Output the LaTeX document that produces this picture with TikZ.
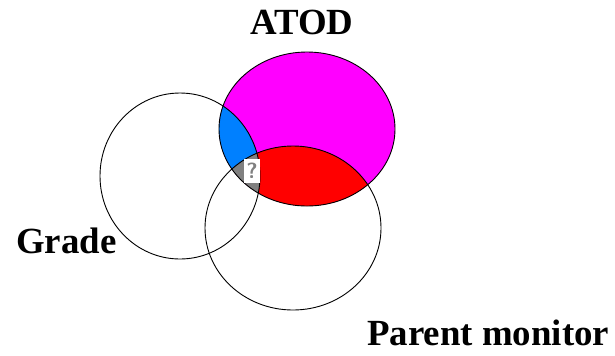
\documentclass[tikz,border=0pt]{standalone}
\usepackage{fontspec}
\setmainfont{Liberation Serif}
\definecolor{atodmag}{HTML}{FF00FF}
\definecolor{gradeblue}{HTML}{0080FF}
\definecolor{parentred}{HTML}{FF0000}
\definecolor{tripgray}{HTML}{808080}
\begin{document}
\begin{tikzpicture}[x=1bp,y=-1bp,
  outline/.style={draw=black,line width=0.9bp},
  lbl/.style={font=\fontsize{37}{40}\selectfont\bfseries,inner sep=0pt,anchor=base west}]
\useasboundingbox (0,0) rectangle (615,355);
\coordinate (atodc) at (307,129);
\coordinate (gradec) at (180,176);
\coordinate (parentc) at (293,228);
\def\atodpath{(atodc) ellipse [x radius=88, y radius=77]}
\def\gradepath{(gradec) ellipse [x radius=80, y radius=83]}
\def\parentpath{(parentc) ellipse [x radius=88, y radius=82]}
\fill[atodmag] \atodpath;
\begin{scope}
  \clip \atodpath;
  \fill[gradeblue] \gradepath;
  \fill[parentred] \parentpath;
  \clip \gradepath;
  \fill[tripgray] \parentpath;
\end{scope}
\draw[outline] \gradepath;
\draw[outline] \parentpath;
\draw[outline] \atodpath;
\node[fill=white,text=tripgray,inner sep=0pt,minimum width=16bp,minimum height=24bp,font=\fontsize{22}{24}\selectfont\bfseries\sffamily] (q) at (252,171) {?};
\node[lbl,anchor=base] (atod) at (302,34) {ATOD};
\node[lbl] (grade) at (16,253) {Grade};
\node[lbl] (parent) at (367,345) {Parent monitor};
\end{tikzpicture}
\end{document}
